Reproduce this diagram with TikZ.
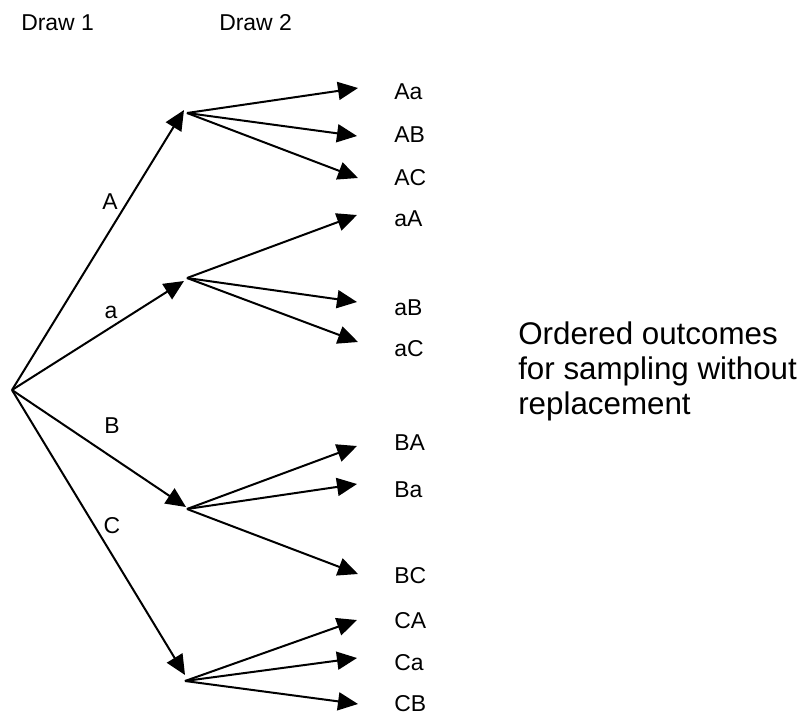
\documentclass[tikz,border=0pt]{standalone}
\usepackage{fontspec}
\setmainfont{Liberation Sans}
\usetikzlibrary{arrows.meta}
\begin{document}
\begin{tikzpicture}[x=0.75pt,y=-0.75pt,
  arr/.style={line width=1.5pt,-{Triangle[length=15pt,width=13.5pt]}},
  lbl/.style={font=\fontsize{17.2}{20}\selectfont,anchor=base west,inner sep=0pt},
  blbl/.style={font=\fontsize{17.2}{20}\selectfont,anchor=base,inner sep=0pt},
  big/.style={font=\fontsize{23.5}{26.25}\selectfont,align=left,anchor=north west,inner sep=0pt}]
\useasboundingbox (0,0) rectangle (804,715);
% header
\node[lbl] (d1) at (21,30) {Draw 1};
\node[lbl] (d2) at (219,30) {Draw 2};
% root and branch points
\coordinate (r) at (12,390);
\coordinate (tA) at (184,110);  \coordinate (sA) at (187,113);
\coordinate (ta) at (184,281);  \coordinate (sa) at (187,278);
\coordinate (tB) at (186,507);  \coordinate (sB) at (187,509);
\coordinate (tC) at (185,675);  \coordinate (sC) at (185,681);
\draw[arr] (r) -- (tA);
\draw[arr] (r) -- (ta);
\draw[arr] (r) -- (tB);
\draw[arr] (r) -- (tC);
\node[blbl] (lA) at (110,209) {A};
\node[blbl] (la) at (111,318) {a};
\node[blbl] (lB) at (112,433) {B};
\node[blbl] (lC) at (112,533) {C};
% second level targets
\coordinate (Aa) at (358,88);
\coordinate (AB) at (357,136);
\coordinate (AC) at (358,178);
\coordinate (aA) at (357,215);
\coordinate (aB) at (357,302);
\coordinate (aC) at (358,342);
\coordinate (BA) at (357,446);
\coordinate (Ba) at (357,484);
\coordinate (BC) at (358,574);
\coordinate (CA) at (357,620);
\coordinate (Ca) at (357,658);
\coordinate (CB) at (358,704);
\foreach \s/\t in {sA/Aa,sA/AB,sA/AC,sa/aA,sa/aB,sa/aC,sB/BA,sB/Ba,sB/BC,sC/CA,sC/Ca,sC/CB}
  \draw[arr] (\s) -- (\t);
% outcome labels
\node[lbl] (oAa) at (394,99) {Aa};
\node[lbl] (oAB) at (394,142) {AB};
\node[lbl] (oAC) at (394,185) {AC};
\node[lbl] (oaA) at (394,226) {aA};
\node[lbl] (oaB) at (394,315) {aB};
\node[lbl] (oaC) at (394,356) {aC};
\node[lbl] (oBA) at (394,450) {BA};
\node[lbl] (oBa) at (394,497) {Ba};
\node[lbl] (oBC) at (394,583) {BC};
\node[lbl] (oCA) at (394,628) {CA};
\node[lbl] (oCa) at (394,670) {Ca};
\node[lbl] (oCB) at (394,711) {CB};
\node[big] (txt) at (518,322) {Ordered outcomes\\for sampling without\\replacement};
\end{tikzpicture}
\end{document}
